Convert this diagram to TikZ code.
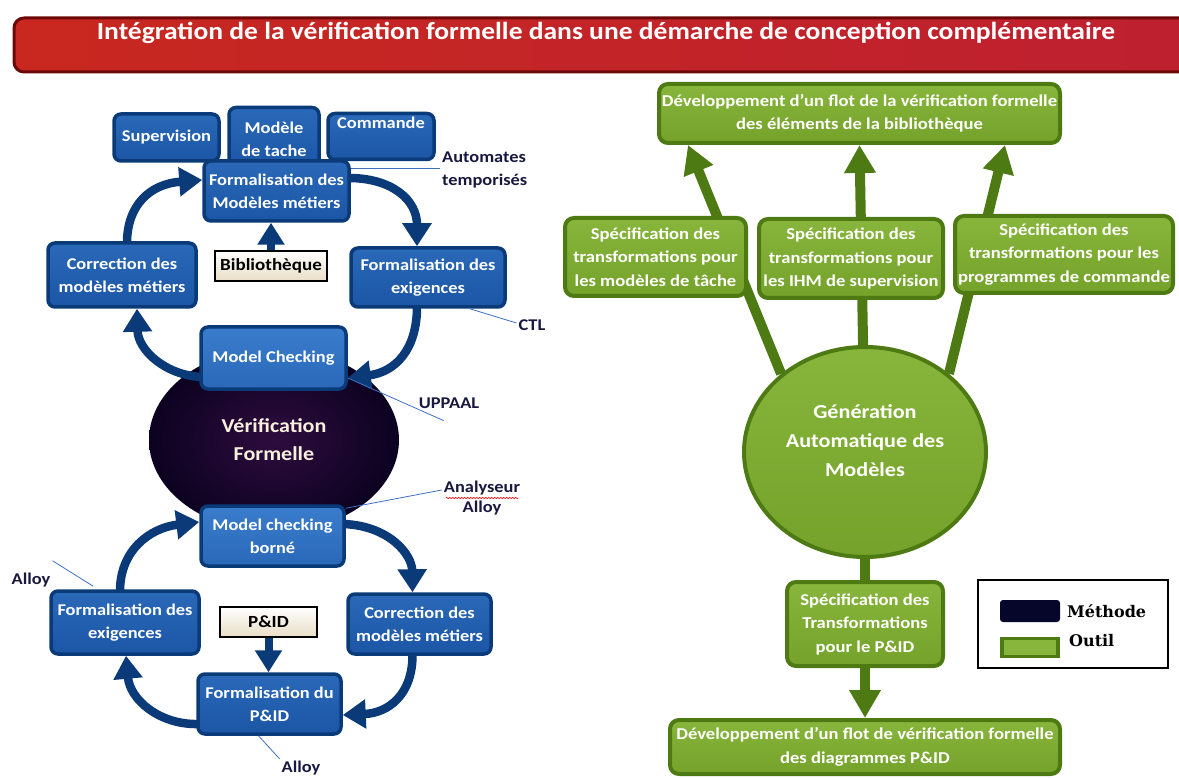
\documentclass[tikz,border=0pt]{standalone}
\usepackage{fontspec}
\setmainfont{Carlito}[FakeStretch=1.12]
\newfontfamily\legfont{DejaVu Serif}
\usetikzlibrary{arrows.meta,shapes.geometric,decorations.pathmorphing,backgrounds,calc}
\definecolor{navy}{HTML}{0B3A78}
\definecolor{blueA}{HTML}{2A68B8}
\definecolor{blueB}{HTML}{1C56A6}
\definecolor{blueC}{HTML}{3A7DCC}
\definecolor{blueD}{HTML}{2A68B8}
\definecolor{greenF}{HTML}{88B63C}
\definecolor{greenG}{HTML}{74A22A}
\definecolor{greenD}{HTML}{4E7A14}
\definecolor{lab}{HTML}{17173F}
\definecolor{leader}{HTML}{3E6FC2}
\definecolor{redA}{HTML}{C8281F}
\definecolor{redB}{HTML}{BE2030}
\definecolor{redD}{HTML}{6C0808}
\definecolor{noteB}{HTML}{E9DEC6}
\definecolor{ellin}{HTML}{2E0C3E}
\definecolor{ellout}{HTML}{0C0220}
\definecolor{cream}{HTML}{F8F0DC}
\definecolor{methode}{HTML}{06062A}
\begin{document}
\begin{tikzpicture}[x=1pt,y=-1pt,
 bbox/.style={rectangle, rounded corners=7pt, draw=navy, line width=3.5pt, top color=blueA, bottom color=blueB, text=white, font=\fontsize{16.4}{23}\selectfont\bfseries, align=center, inner sep=0pt},
 bboxl/.style={bbox, top color=blueC, bottom color=blueD},
 gbox/.style={rectangle, rounded corners=9pt, draw=greenD, line width=4pt, top color=greenF, bottom color=greenG, text=white, font=\fontsize{16.6}{23.5}\selectfont\bfseries, align=center, inner sep=0pt},
 notebox/.style={rectangle, draw=black, line width=1.2pt, top color=white, bottom color=noteB, font=\fontsize{17}{20}\selectfont\bfseries, inner sep=0pt},
 cyc/.style={draw=navy, line width=8.5pt, -{Triangle[width=28pt,length=23pt]}},
 notearr/.style={draw=navy, line width=8pt, -{Triangle[width=26pt,length=22pt]}},
 garr/.style={draw=greenD, line width=10pt, -{Triangle[width=30pt,length=28pt]}},
 gline/.style={draw=greenD, line width=10pt},
 leaderline/.style={draw=leader, line width=0.8pt},
 lbl/.style={text=lab, font=\fontsize{16.4}{20}\selectfont\bfseries, inner sep=0pt},
]
\useasboundingbox (0,0) rectangle (1179,778);

% title bar
\path[left color=redA, right color=redB, draw=redD, line width=3pt, rounded corners=10pt] (14,18) rectangle (1200,72);
\node[text=white, font=\fontsize{24.6}{28}\selectfont\bfseries] (title) at (606,33) {Intégration de la vérification formelle dans une démarche de conception complémentaire};

% ---------------- left part ----------------
\node[bbox, minimum width=105pt, minimum height=47pt] (sup) at (166.5,137.5) {Supervision};
\node[bbox, minimum width=90pt, minimum height=63pt] (mdt) at (274,139) {Modèle\\de tache};
\node[bbox, minimum width=106pt, minimum height=46pt] (cmd) at (381,136.5) {Commande\\[4pt]};
\node[bbox, minimum width=145pt, minimum height=60pt] (fmm) at (276.5,191) {Formalisation des\\Modèles métiers};
\node[bbox, minimum width=148pt, minimum height=64pt] (corr1) at (122,275) {Correction des\\modèles métiers};
\node[bbox, minimum width=154pt, minimum height=59pt] (fex1) at (428,277.5) {Formalisation des\\exigences};
\node[bboxl, minimum width=145pt, minimum height=62pt] (mc) at (273.5,358) {Model Checking};
\node[bboxl, minimum width=143pt, minimum height=60pt] (mcb) at (272.5,536) {Model checking\\borné};
\node[bbox, minimum width=148pt, minimum height=63pt] (fex2) at (125,622.5) {Formalisation des\\exigences};
\node[bbox, minimum width=143pt, minimum height=60pt] (corr2) at (419.5,624) {Correction des\\modèles métiers};
\node[bbox, minimum width=143pt, minimum height=60pt] (fpid) at (269.5,704) {Formalisation du\\P\&ID};

\node[notebox, minimum width=112pt, minimum height=30pt] (bib) at (271,266) {Bibliothèque};
\node[notebox, minimum width=97pt, minimum height=30pt] (pid) at (268.5,622) {P\&ID};

\begin{pgfonlayer}{background}
\node[ellipse, minimum width=250pt, minimum height=184pt, inner sep=0pt, inner color=ellin, outer color=ellout, text=cream, font=\fontsize{19.7}{28}\selectfont\bfseries, align=center] (vf) at (274,440) {Vérification\\Formelle};
% top cycle
\draw[cyc] ($(corr1.north)+(5,2)$) .. controls (127,205) and (150,184) .. ($(fmm.west)+(0,-11)$);
\draw[cyc] ($(fmm.east)+(-2,-13)$) .. controls (392,178) and (417,200) .. ($(fex1.north)+(-11,0)$);
\draw[cyc] ($(fex1.south)+(-11,-2)$) .. controls (417,350) and (395,372) .. ($(mc.east)+(0,20)$);
\draw[cyc] ($(mc.west)+(2,19)$) .. controls (165,375) and (138,350) .. ($(corr1.south)+(15,0)$);
% bottom cycle
\draw[cyc] ($(fex2.north)+(-5,2)$) .. controls (120,550) and (150,528) .. ($(mcb.west)+(0,-14)$);
\draw[cyc] ($(mcb.east)+(-2,-12)$) .. controls (390,526) and (412,555) .. ($(corr2.north)+(-7,0)$);
\draw[cyc] ($(corr2.south)+(-7,-2)$) .. controls (413,695) and (388,713) .. ($(fpid.east)+(0,11)$);
\draw[cyc] ($(fpid.west)+(2,20)$) .. controls (160,725) and (130,700) .. ($(fex2.south)+(1,0)$);
% note arrows
\draw[notearr] (bib.north) -- (bib.north |- fmm.south);
\draw[notearr] (pid.south) -- (pid.south |- fpid.north);
\end{pgfonlayer}

% labels
\node[lbl, anchor=west, align=left, font=\fontsize{16.4}{23}\selectfont\bfseries] (auto) at (442,170) {Automates\\temporisés};
\node[lbl] (ctl) at (532,325) {CTL};
\node[lbl] (upp) at (449,403) {UPPAAL};
\node[lbl, align=center] (ana) at (482,498) {Analyseur\\Alloy};
\node[lbl] (alloyA) at (31,580) {Alloy};
\node[lbl] (alloyB) at (301,768) {Alloy};

\draw[leaderline] ($(fmm.east)+(0,-23)$) -- ($(auto.west)+(-2,-2)$);
\draw[leaderline] ($(fex1.south east)+(-37,0)$) -- ($(ctl.west)+(-2,-2)$);
\draw[leaderline] ($(mc.east)+(0,20)$) -- ($(upp.south west)+(25,12)$);
\draw[leaderline] ($(mcb.north east)+(0,4)$) -- ($(ana.west)+(-2,-8)$);
\draw[leaderline] ($(alloyA.north east)+(2,-12)$) -- ($(fex2.north west)+(44,-3)$);
\draw[leaderline] ($(fpid.south)+(-11,0)$) -- ($(alloyB.north west)+(-2,-2)$);
\draw[red, line width=0.6pt, decorate, decoration={snake, amplitude=0.7pt, segment length=3pt}] ($(ana.west)+(2,0)$) -- ($(ana.east)+(-2,0)$);

% ---------------- right part ----------------
\node[gbox, minimum width=401pt, minimum height=59pt] (top1) at (859.5,113.5) {Développement d’un flot de la vérification formelle\\des éléments de la bibliothèque};
\node[ellipse, minimum width=242pt, minimum height=210pt, draw=greenD, line width=4pt, top color=greenF, bottom color=greenG, inner sep=0pt] (gen) at (865,452) {};
\node[text=white, font=\fontsize{19.8}{29}\selectfont\bfseries, align=center] (gentext) at (865,441) {Génération\\Automatique des\\Modèles};
\node[gbox, minimum width=181pt, minimum height=78pt] (s1) at (655.5,257) {Spécification des\\transformations pour\\les modèles de tâche};
\node[gbox, minimum width=184pt, minimum height=79pt] (s2) at (851,258.5) {Spécification des\\transformations pour\\les IHM de supervision};
\node[gbox, minimum width=218pt, minimum height=77pt] (s3) at (1064,254.5) {Spécification des\\transformations pour les\\programmes de commande};
\node[gbox, minimum width=156pt, minimum height=84pt] (s4) at (865,624) {Spécification des\\Transformations\\pour le P\&ID};
\node[gbox, minimum width=390pt, minimum height=54pt] (bot) at (865,747) {Développement d’un flot de vérification formelle\\des diagrammes P\&ID};

\begin{pgfonlayer}{background}
\draw[garr] (gen.137) -- ($(top1.south)+(-171.5,0)$);
\draw[garr] (gen.center) -- (top1.south);
\draw[garr] (gen.43) -- ($(top1.south)+(145.5,0)$);
\draw[gline] (gen.center) -- (s4.north);
\draw[garr] (s4.south) -- (bot.north);
\end{pgfonlayer}

% legend
\node[draw=black, line width=1.2pt, minimum width=190pt, minimum height=88pt, inner sep=0pt, fill=white] (leg) at (1073,624) {};
\node[rectangle, rounded corners=3pt, fill=methode, minimum width=60pt, minimum height=22pt, inner sep=0pt] (legm) at (1030,611) {};
\node[font=\legfont\fontsize{16}{18}\selectfont\bfseries, anchor=west, inner sep=0pt] (legmt) at (1067,611) {Méthode};
\node[rectangle, fill=greenF, draw=greenD, line width=3.5pt, minimum width=56pt, minimum height=18pt, inner sep=0pt] (lego) at (1030,647.5) {};
\node[font=\legfont\fontsize{16}{18}\selectfont\bfseries, anchor=west, inner sep=0pt] (legot) at (1069,641) {Outil};
\end{tikzpicture}
\end{document}
